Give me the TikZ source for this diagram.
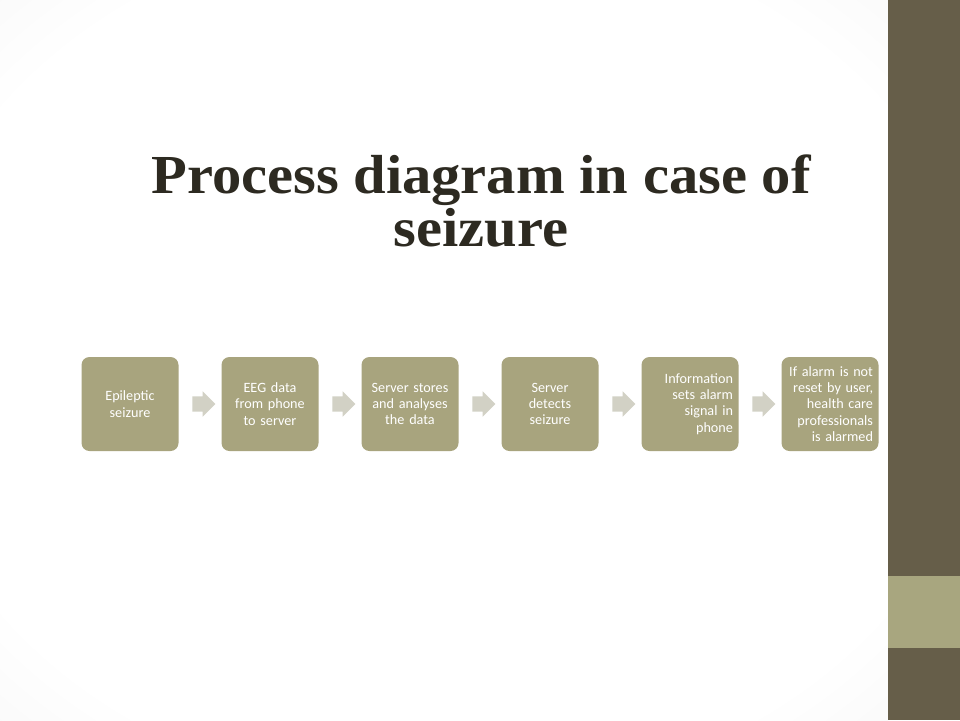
\documentclass[tikz,border=0pt]{standalone}
\usepackage{fontspec}
\setmainfont[WordSpace=0.7]{Carlito}
\newfontfamily\titlefont[FakeStretch=1.065]{Liberation Serif}
\usetikzlibrary{shapes.arrows,calc}
\definecolor{boxfill}{HTML}{A8A47E}
\definecolor{bardark}{HTML}{665E49}
\definecolor{barlight}{HTML}{A8A67F}
\definecolor{arrowfill}{HTML}{D2D1C5}
\definecolor{titlecol}{HTML}{2D2A21}
\pgfdeclareradialshading{vignette}{\pgfpoint{0bp}{0bp}}{%
  color(0bp)=(white); color(30bp)=(white); color(42bp)=(black!4);
  color(52bp)=(black!9); color(71bp)=(black!14)}
\tikzset{
  stepbox/.style={draw=none, fill=boxfill, rounded corners=8pt,
    minimum width=97pt, minimum height=94pt, inner sep=0pt,
    text=white, font=\fontsize{14.2pt}{16.3pt}\selectfont},
  cbox/.style={stepbox, align=center, text width=92pt},
  rbox/.style={stepbox, align=right, text width=86pt},
  flowarrow/.style={single arrow, fill=arrowfill, draw=none,
    minimum height=22pt, inner sep=7.5pt, single arrow head extend=5pt,
    outer sep=0pt},
  titletext/.style={text=titlecol, inner sep=0pt,
    font=\titlefont\bfseries\fontsize{55pt}{53pt}\selectfont}
}
\begin{document}
\begin{tikzpicture}[x=1pt,y=-1pt]
\useasboundingbox (0,0) rectangle (960,720);
\shade[shading=vignette] (0,0) rectangle (888,720);
\fill[bardark] (888,0) rectangle (960,720);
\fill[barlight] (888,576) rectangle (960,648);

\node[titletext, anchor=base] (t1) at (481,193) {Process diagram in case of};
\node[titletext, anchor=base] (t2) at (481,246) {seizure};

\node[cbox] (b1) at (130,404) {Epileptic\\seizure};
\node[cbox] (b2) at (270,404) {EEG data\\from phone\\to server};
\node[cbox] (b3) at (410,404) {Server stores\\and analyses\\the data};
\node[cbox] (b4) at (550,404) {Server\\detects\\seizure};
\node[rbox] (b5) at (690,404) {Information\\sets alarm\\signal in\\phone};
\node[rbox] (b6) at (830,404) {If alarm is not\\reset by user,\\health care\\professionals\\is alarmed};

\foreach \a/\b in {b1/b2,b2/b3,b3/b4,b4/b5,b5/b6}{
  \node[flowarrow] (arr-\a) at ($(\a.east)!0.5!(\b.west)$) {};
}
\end{tikzpicture}
\end{document}
